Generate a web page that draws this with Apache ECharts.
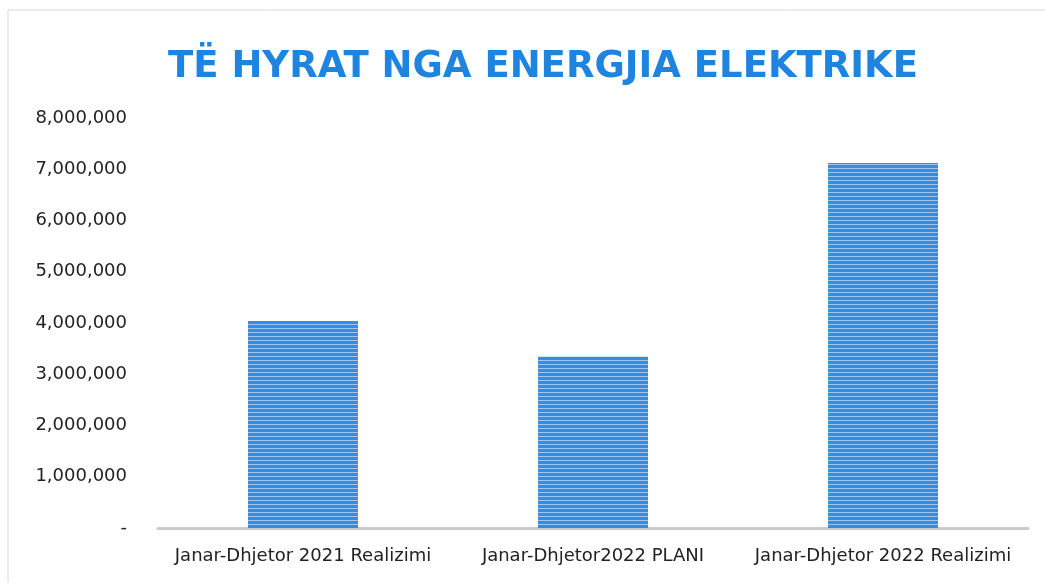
<!DOCTYPE html>
<html>
<head>
    <meta charset="utf-8">
    <title>Të hyrat nga energjia elektrike</title>
    <script src="https://cdn.jsdelivr.net/npm/echarts@6/dist/echarts.min.js"></script>
    <style>
        body{ margin:0; background:#fff; }
        #chart{ width:1045px; height:583px; }
    </style>
</head>
<body>
<div id="chart"></div>
<script>
    var categories = ['Janar-Dhjetor 2021 Realizimi', 'Janar-Dhjetor2022 PLANI', 'Janar-Dhjetor 2022 Realizimi'];
    var values = [4040000, 3340000, 7120000];
    var yTicks = [0, 1000000, 2000000, 3000000, 4000000, 5000000, 6000000, 7000000, 8000000];

    function fmt(v){
        if (v === 0) return '-';
        return String(v).replace(/\B(?=(\d{3})+(?!\d))/g, ',');
    }

    var chart = echarts.init(document.getElementById('chart'));
    chart.setOption({
        animation: false,
        title: {
            text: 'TË HYRAT NGA ENERGJIA ELEKTRIKE',
            left: 163,
            top: 44,
            textStyle: {
                fontFamily: 'DejaVu Sans',
                fontWeight: 'bold',
                fontSize: 37,
                color: '#1f84de'
            }
        },
        graphic: [{
            type: 'rect',
            shape: { x: 8, y: 10, width: 1060, height: 600 },
            style: { fill: 'none', stroke: '#d8d8d8', lineWidth: 1 },
            silent: true
        }],
        grid: { left: 158, right: 17, top: 118, bottom: 55 },
        xAxis: {
            type: 'category',
            data: categories,
            axisLine: { lineStyle: { color: '#c8ccd2', width: 3 } },
            axisTick: { show: false },
            axisLabel: {
                fontFamily: 'DejaVu Sans', fontSize: 18, color: '#222', margin: 19,
                interval: 0, hideOverlap: false
            }
        },
        yAxis: {
            type: 'value',
            min: yTicks[0],
            max: yTicks[yTicks.length - 1],
            interval: 1000000,
            splitLine: { show: false },
            axisLine: { show: false },
            axisTick: { show: false },
            axisLabel: {
                fontFamily: 'DejaVu Sans', fontSize: 18, color: '#222', margin: 31,
                formatter: fmt
            }
        },
        series: [{
            type: 'bar',
            data: values,
            barWidth: 110,
            itemStyle: {
                color: '#358ce0',
                decal: {
                    symbol: 'rect',
                    symbolSize: 1,
                    color: 'rgba(255,255,255,0.5)',
                    dashArrayX: [1, 0],
                    dashArrayY: [1, 3],
                    rotation: 0
                }
            }
        }]
    });
</script>
</body>
</html>
